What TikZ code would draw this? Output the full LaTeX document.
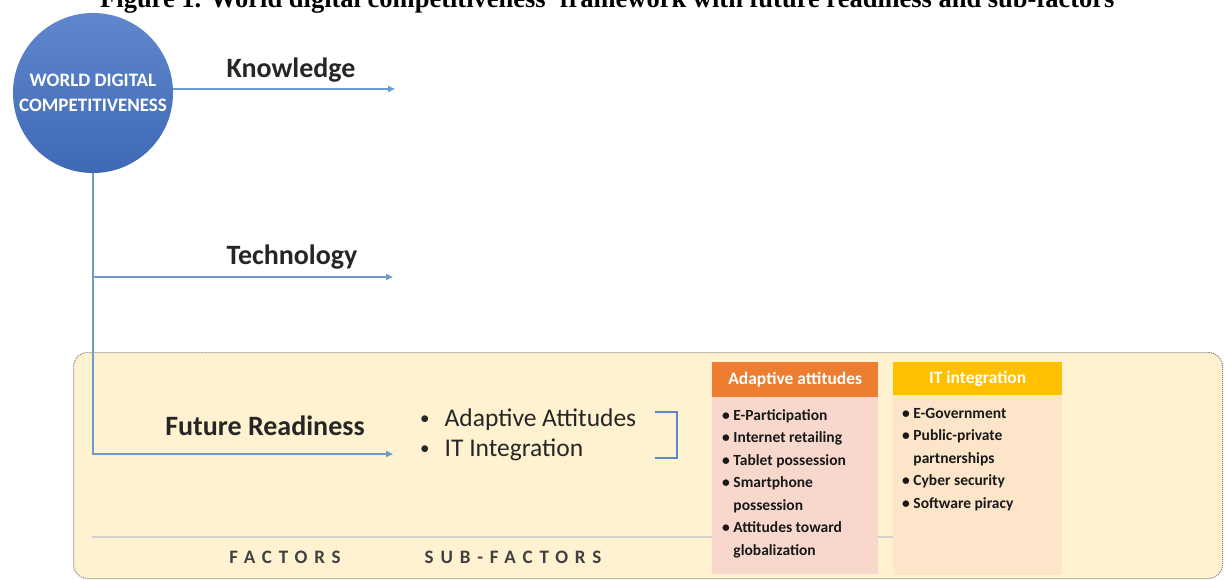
\documentclass[tikz,border=0pt]{standalone}
\usepackage{fontspec}
\setmainfont{Carlito}
\newfontfamily\capfont{Liberation Serif}
\usetikzlibrary{positioning, arrows.meta}

\definecolor{wdcblue}{RGB}{68,114,196}
\definecolor{linkblue}{RGB}{110,155,205}
\definecolor{panelfill}{RGB}{255,242,208}
\definecolor{attorange}{RGB}{237,125,49}
\definecolor{attpink}{RGB}{248,216,204}
\definecolor{itgold}{RGB}{255,192,0}
\definecolor{itpeach}{RGB}{252,229,201}
\newcommand{\tracked}{\addfontfeatures{LetterSpace=36}}
\newcommand{\subbullet}{\raisebox{2pt}{\fontsize{19}{19}\selectfont\textbullet}\hspace{15pt}}

\begin{document}
\begin{tikzpicture}[x=1pt, y=-1pt,
  link/.style={draw=linkblue, line width=2pt},
  arrowlink/.style={link, -{Triangle[length=7pt, width=6pt]}},
  factor/.style={font=\fontsize{28}{30}\selectfont\bfseries, text=black!85, inner sep=0},
  head/.style={anchor=north west, minimum height=35pt, text=white, font=\fontsize{17.5}{18}\selectfont\bfseries, inner sep=0},
  body/.style={anchor=north west, inner sep=0},
  items/.style={anchor=north west, align=left, inner sep=0, text=black!90, font=\fontsize{15.5}{22.5}\selectfont\bfseries},
  axis/.style={font=\fontsize{19}{20}\selectfont\bfseries\tracked, text=black!75, inner sep=0}]

  \useasboundingbox (0,0) rectangle (1225,580);

  \node[anchor=base west, inner sep=0, font=\capfont\bfseries\fontsize{26.5}{28}\selectfont] (caption) at (100,8)
    {Figure 1. World digital competitiveness' framework with future readiness and sub-factors};

  % shaded panel for the future readiness factor
  \node[anchor=north west, draw=gray, densely dotted, line width=1pt, fill=panelfill, rounded corners=14pt,
        minimum width=1149pt, minimum height=226pt] (panel) at (73,352) {};
  \draw[draw=black!18, line width=1.2pt] (92,537) -- (895,537);

  \node[circle, minimum size=156pt, top color=wdcblue!85!white, bottom color=wdcblue!92!black,
        text=white, align=center, font=\fontsize{19}{25}\selectfont\bfseries] (wdc) at (93,93)
    {WORLD DIGITAL\\COMPETITIVENESS};

  \coordinate (knowtip) at (395,89);
  \coordinate (techtip) at (393,277);
  \coordinate (readytip) at (393,454);

  \draw[arrowlink] (wdc.south) |- (readytip);
  \draw[arrowlink] (wdc.south |- techtip) -- (techtip);
  \draw[arrowlink] (wdc.east |- knowtip) -- (knowtip);

  \node[factor] (know) at (291,70) {Knowledge};
  \node[factor] (tech) at (292,257) {Technology};
  \node[factor] (ready) at (265,426) {Future Readiness};

  \node[anchor=west, align=left, inner sep=0, text=black!85, font=\fontsize{25.5}{30}\selectfont] (subs) at (420,435)
    {\subbullet Adaptive Attitudes\\\subbullet IT Integration};
  \draw[draw=wdcblue!85, line width=1.6pt] (655,412) -- (677,412) -- (677,458) -- (655,458);

  % sub-factor boxes
  \node[body, fill=attpink, minimum width=166pt, minimum height=177pt] (attbody) at (712,397) {};
  \node[head, fill=attorange, minimum width=166pt] (atthead) at (712,362) {Adaptive attitudes};
  \node[items] (attlist) at (722,409)
    {\textbullet\ E-Participation\\\textbullet\ Internet retailing\\\textbullet\ Tablet possession\\
     \textbullet\ Smartphone\\\phantom{\textbullet\ }possession\\\textbullet\ Attitudes toward\\
     \phantom{\textbullet\ }globalization};

  \node[body, fill=itpeach, minimum width=169pt, minimum height=180pt] (itbody) at (893,395) {};
  \node[head, fill=itgold, minimum width=169pt, minimum height=33pt] (ithead) at (893,362) {IT integration};
  \node[items] (itlist) at (902,408)
    {\textbullet\ E-Government\\\textbullet\ Public-private\\\phantom{\textbullet\ }partnerships\\
     \textbullet\ Cyber security\\\textbullet\ Software piracy};

  \node[axis] (factors) at (285,557) {FACTORS};
  \node[axis] (subfactors) at (513,557) {SUB-FACTORS};
\end{tikzpicture}
\end{document}
